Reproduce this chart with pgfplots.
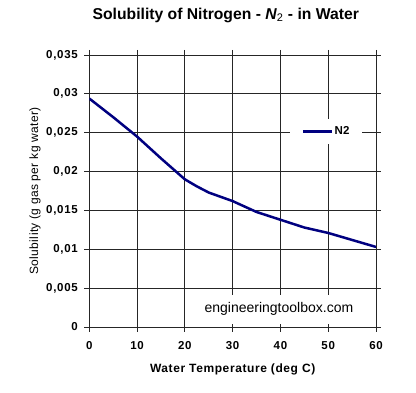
\documentclass[border=0pt]{standalone}
\usepackage{fontspec}
\setmainfont{Liberation Sans}
\newfontfamily\spacedbold[LetterSpace=5]{Liberation Sans}
\newfontfamily\tickfont[LetterSpace=6]{Liberation Sans}
\newfontfamily\ylabfont[LetterSpace=3]{Liberation Sans}
\usepackage{pgfplots}
\pgfplotsset{compat=1.18}
\definecolor{navy}{RGB}{0,0,128}
\begin{document}
\begin{tikzpicture}[x=1pt,y=1pt]
\useasboundingbox (0,0) rectangle (416,393);
\begin{axis}[
  at={(89.3pt,66pt)}, anchor=south west,
  scale only axis, width=286.7pt, height=272pt,
  xmin=0, xmax=60, ymin=0, ymax=0.035,
  xtick={0,10,...,60},
  ytick={0,0.005,0.01,0.015,0.02,0.025,0.03,0.035},
  scaled y ticks=false,
  /pgf/number format/assume math mode=true,
  /pgf/number format/use comma,
  /pgf/number format/fixed,
  /pgf/number format/precision=3,
  ticklabel style={font=\tickfont\fontsize{11.5}{13}\selectfont\bfseries},
  yticklabel style={xshift=-3pt},
  xticklabel style={yshift=-6pt},
  tick align=outside, major tick length=5pt,
  tick style={black!85, line width=0.8pt},
  grid=major, major grid style={black!85, line width=0.8pt},
  axis line style={black!85, line width=0.8pt},
  xlabel={\spacedbold\bfseries Water Temperature (deg C)},
  xlabel style={font=\fontsize{12}{14}\selectfont, at={(axis description cs:0.5,-0.1555)}, anchor=center},
  ylabel={\ylabfont Solubility (g gas per kg water)},
  ylabel style={font=\fontsize{12}{14}\selectfont, at={(axis description cs:-0.189,0.5)}, anchor=center},
  title={Solubility of Nitrogen - \textit{N}$_{\mathrm{2}}$ - in Water},
  title style={font=\fontsize{15.7}{18}\selectfont\bfseries, at={(axis description cs:0.476,1.125)}, anchor=center},
  legend style={draw=none, fill=white, at={(axis cs:49.6,0.02515)}, anchor=center,
    inner xsep=12pt, inner ysep=7pt, font=\fontsize{11.5}{13}\selectfont\bfseries,
    nodes={inner sep=1pt}},
  legend image code/.code={\draw[#1] (0pt,0pt) -- (29pt,0pt);},
]
\addplot[navy, line width=2.5pt, line join=round] coordinates {
 (0,0.0294) (5,0.0270) (10,0.0245) (15,0.0217) (20,0.0190) (22.5,0.0181)
 (25,0.0173) (30,0.0162) (35,0.0148) (40,0.0138) (45,0.0128) (50,0.0121)
 (55,0.0112) (60,0.0103)
};
\addlegendentry{N2}
\node[fill=white, inner xsep=6pt, minimum height=29pt, font=\fontsize{14}{16}\selectfont]
  at (axis cs:39.68,0.00228) {engineeringtoolbox.com};
\end{axis}
\end{tikzpicture}
\end{document}
